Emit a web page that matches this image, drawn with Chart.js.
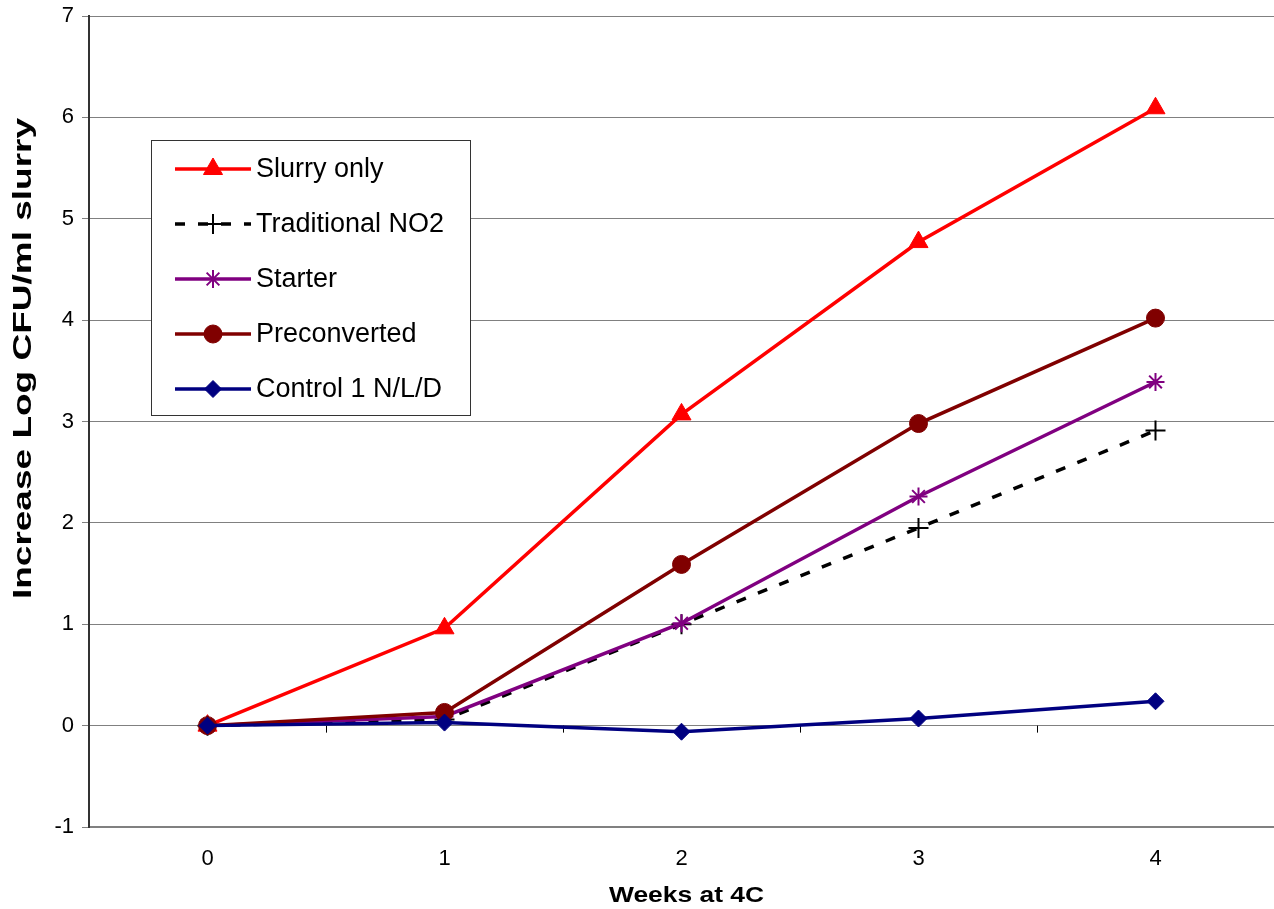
<!DOCTYPE html>
<html>
<head>
<meta charset="utf-8">
<script src="https://cdn.jsdelivr.net/npm/chart.js@4/dist/chart.umd.min.js"></script>
<style>
  html, body { margin: 0; padding: 0; background: #fff; }
  canvas { display: block; }
</style>
</head>
<body>
<canvas id="c" width="1274" height="909"></canvas>
<script>
// ---- data ----
const weeks = ['0', '1', '2', '3', '4'];
const slurryOnly     = [0, 0.96, 3.07, 4.77, 6.09];
const traditionalNO2 = [0, 0.06, 1.00, 1.95, 2.91];
const starter        = [0, 0.09, 1.01, 2.26, 3.39];
const preconverted   = [0, 0.13, 1.59, 2.98, 4.02];
const control1NLD    = [0, 0.03, -0.06, 0.07, 0.24];
const seriesNames = ['Slurry only', 'Traditional NO2', 'Starter', 'Preconverted', 'Control 1 N/L/D'];
const yMin = -1, yMax = 7, yStep = 1;
const xTitleText = 'Weeks at 4C';
const yTitleText = 'Increase Log CFU/ml slurry';

const FONT = "'Liberation Sans', Arial, Helvetica, sans-serif";
Chart.defaults.font.family = FONT;
Chart.defaults.color = '#000';

function ds(label, data, color, style, radius, extra) {
  return Object.assign({
    label: label,
    data: data,
    borderColor: color,
    backgroundColor: color,
    pointBackgroundColor: color,
    pointBorderColor: color,
    borderWidth: 3.5,
    pointStyle: style,
    pointRadius: radius,
    pointBorderWidth: 1,
    tension: 0,
    fill: false,
    clip: false
  }, extra || {});
}

const datasets = [
  ds(seriesNames[0], slurryOnly, '#FF0000', 'triangle', 11, { order: 5 }),
  ds(seriesNames[1], traditionalNO2, '#000000', 'cross', 10, { order: 4, borderDash: [10, 13], pointBorderWidth: 2 }),
  ds(seriesNames[2], starter, '#800080', 'star', 9, { order: 3, pointBorderWidth: 2 }),
  ds(seriesNames[3], preconverted, '#800000', 'circle', 9, { order: 2 }),
  ds(seriesNames[4], control1NLD, '#000080', 'rectRot', 8.5, { order: 1 })
];

const zeroLineTicks = {
  id: 'zeroLineTicks',
  beforeDatasetsDraw(chart) {
    const xs = chart.scales.x, ys = chart.scales.y, ctx = chart.ctx;
    const y0 = ys.getPixelForValue(0);
    ctx.save();
    ctx.strokeStyle = '#000';
    ctx.lineWidth = 1;
    for (let i = 0; i < weeks.length - 1; i++) {
      const px = Math.round((xs.getPixelForTick(i) + xs.getPixelForTick(i + 1)) / 2) + 0.5;
      ctx.beginPath();
      ctx.moveTo(px, y0);
      ctx.lineTo(px, y0 + 7);
      ctx.stroke();
    }
    ctx.restore();
  }
};

const axisTitles = {
  id: 'axisTitles',
  afterDraw(chart) {
    const ctx = chart.ctx, a = chart.chartArea;
    ctx.save();
    ctx.fillStyle = '#000';
    ctx.textAlign = 'center';
    ctx.textBaseline = 'middle';
    // y title (rotated)
    ctx.save();
    ctx.translate(24, (a.top + a.bottom) / 2 - 63);
    ctx.rotate(-Math.PI / 2);
    ctx.scale(1.48, 1);
    ctx.font = 'bold 25px ' + FONT;
    ctx.fillText(yTitleText, 0, 0);
    ctx.restore();
    // x title
    ctx.save();
    ctx.translate((a.left + a.right) / 2 + 5, 896);
    ctx.scale(1.2, 1);
    ctx.font = 'bold 22px ' + FONT;
    ctx.fillText(xTitleText, 0, 0);
    ctx.restore();
    ctx.restore();
  }
};

const boxLegend = {
  id: 'boxLegend',
  afterDatasetsDraw(chart) {
    const ctx = chart.ctx, a = chart.chartArea;
    const x0 = a.left + 62, y0 = a.top + 124, w = 319, h = 275;
    ctx.save();
    ctx.fillStyle = '#fff';
    ctx.fillRect(x0, y0, w, h);
    ctx.strokeStyle = '#333';
    ctx.lineWidth = 1;
    ctx.strokeRect(x0 + 0.5, y0 + 0.5, w, h);
    chart.data.datasets.forEach((d, i) => {
      const cy = y0 + 29 + i * 55;
      const lx1 = x0 + 24, lx2 = x0 + 100, mx = (lx1 + lx2) / 2;
      ctx.strokeStyle = d.borderColor;
      ctx.lineWidth = d.borderWidth;
      ctx.setLineDash(d.borderDash || []);
      ctx.lineDashOffset = 0;
      ctx.beginPath();
      ctx.moveTo(lx1, cy);
      ctx.lineTo(lx2, cy);
      ctx.stroke();
      ctx.setLineDash([]);
      ctx.fillStyle = d.pointBackgroundColor;
      ctx.strokeStyle = d.pointBorderColor;
      ctx.lineWidth = d.pointBorderWidth;
      Chart.helpers.drawPoint(ctx, {
        pointStyle: d.pointStyle, radius: d.pointRadius, rotation: 0, borderWidth: d.pointBorderWidth
      }, mx, cy);
      ctx.fillStyle = '#000';
      ctx.font = '27px ' + FONT;
      ctx.textBaseline = 'middle';
      ctx.textAlign = 'left';
      ctx.fillText(d.label, lx2 + 5, cy + 1);
    });
    ctx.restore();
  }
};

new Chart(document.getElementById('c'), {
  type: 'line',
  data: { labels: weeks, datasets: datasets },
  options: {
    responsive: false,
    devicePixelRatio: 1,
    animation: false,
    layout: { autoPadding: false, padding: { top: 16, right: 0, bottom: 0, left: 0 } },
    plugins: { legend: { display: false }, tooltip: { enabled: false } },
    scales: {
      x: {
        type: 'category',
        offset: true,
        grid: { display: false, drawTicks: false },
        border: { display: true, color: '#808080', width: 2 },
        ticks: { font: { size: 22 }, color: '#000', padding: 19 },
        title: { display: false, text: xTitleText },
        afterFit(s) { s.height = 82; s.paddingLeft = 0; s.paddingRight = 0; }
      },
      y: {
        min: yMin, max: yMax,
        ticks: { stepSize: yStep, font: { size: 22 }, color: '#000', padding: 8 },
        grid: { color: '#808080', tickLength: 7, drawTicks: true },
        border: { color: '#333', width: 2 },
        title: { display: false, text: yTitleText },
        afterFit(s) { s.width = 89; s.paddingTop = 0; s.paddingBottom = 0; }
      }
    }
  },
  plugins: [zeroLineTicks, boxLegend, axisTitles]
});
</script>
</body>
</html>
